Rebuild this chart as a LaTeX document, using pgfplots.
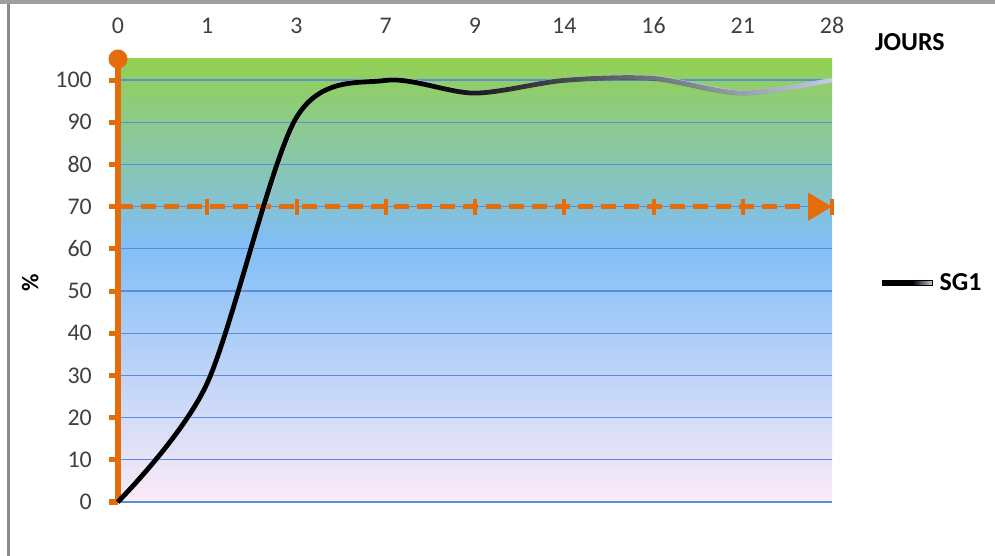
\documentclass[border=0pt]{standalone}
\usepackage{pgfplots}
\pgfplotsset{compat=1.18}
\usepackage{pgfplotstable}
\usepackage{fontspec}
\setmainfont{Carlito}
\usetikzlibrary{fadings,arrows.meta}

\definecolor{xlorange}{RGB}{228,108,10}
\definecolor{gridblue}{RGB}{90,140,215}
\definecolor{bggreen}{RGB}{146,208,82}
\definecolor{bgblue}{RGB}{128,190,248}
\definecolor{bgpink}{RGB}{252,234,248}
\definecolor{ticktext}{RGB}{64,64,64}
\definecolor{curvelight}{RGB}{196,206,228}

% background: pink at the bottom, blue around 60, green on top
\pgfdeclareverticalshading{plotbg}{100bp}{color(0bp)=(bgpink); color(25bp)=(bgpink); color(54bp)=(bgblue); color(75bp)=(bggreen); color(100bp)=(bggreen)}
% curve turns pale over the last days
\pgfdeclarehorizontalshading{curvefadesh}{100bp}{color(0bp)=(white); color(25bp)=(white); color(46bp)=(white); color(75bp)=(black); color(100bp)=(black)}
\tikzfading[name=curvefade, shading=curvefadesh]

\pgfplotstableread{
idx val
0 0
1 28
2 91
3 100
4 97
5 100
6 100.5
7 97
8 100
}\sgdata

\begin{document}
\begin{tikzpicture}
\fill[white] (0bp,0bp) rectangle (995bp,556bp);
\fill[black!38] (0bp,552bp) rectangle (995bp,556bp);
\fill[black!45] (7bp,0bp) rectangle (9.5bp,552bp);
\begin{axis}[
  at={(118bp,54bp)}, anchor=south west,
  scale only axis, width=714bp, height=443bp,
  xmin=0, xmax=8, ymin=0, ymax=105,
  clip=false,
  axis line style={draw=none},
  xtick={0,...,8}, xticklabels={0,1,3,7,9,14,16,21,28},
  xticklabel pos=upper, xtick style={draw=none},
  xticklabel style={anchor=base, yshift=16bp},
  ytick={0,10,...,100}, ytick pos=left, tick align=outside,
  major tick length=9bp,
  ytick style={draw=xlorange, line width=5bp},
  yticklabel style={anchor=east, inner sep=0pt, xshift=-17bp},
  ymajorgrids, grid style={gridblue, line width=1.2bp},
  axis background/.style={shade, shading=plotbg},
  ticklabel style={font=\fontsize{24}{28}\selectfont, text=ticktext},
  /pgf/number format/assume math mode=true,
  ylabel={\%},
  ylabel style={at={(axis description cs:-0.123,0.494)}, anchor=center, font=\bfseries\fontsize{24}{28}\selectfont},
  legend style={at={(1.07,0.494)}, anchor=west, draw=none, fill=none,
    font=\bfseries\fontsize{26}{30}\selectfont, inner sep=0pt},
]
% orange axis and 70 % threshold
\draw[xlorange, line width=5bp] (axis cs:0,0) -- (axis cs:0,105);
\fill[xlorange] (axis cs:0,105) circle[radius=9.5bp];
\draw[xlorange, line width=5bp, dash pattern=on 15bp off 8bp,
  -{Triangle[length=24bp,width=27bp]}] (axis cs:0,70) -- (axis cs:8,70);
\pgfplotsinvokeforeach{1,...,8}{
  \draw[xlorange, line width=4bp] (axis cs:#1,70) ++(0bp,-8bp) -- ++(0bp,16bp);
}
\addplot[curvelight, line width=4.8bp, smooth, forget plot] table[x=idx,y=val] {\sgdata};
\addplot[black, line width=4.8bp, smooth, path fading=curvefade, forget plot] table[x=idx,y=val] {\sgdata};
\addlegendimage{legend image code/.code={
    \fill[black] (0bp,-2.5bp) rectangle (30bp,2.5bp);
    \shade[left color=black, right color=curvelight] (30bp,-2.5bp) rectangle (50bp,2.5bp);
    \path (55bp,0bp);
  }}
\addlegendentry{SG1}
\node[font=\bfseries\fontsize{26}{30}\selectfont] at (rel axis cs:1.109,1.038) {JOURS};
\end{axis}
\end{tikzpicture}
\end{document}
